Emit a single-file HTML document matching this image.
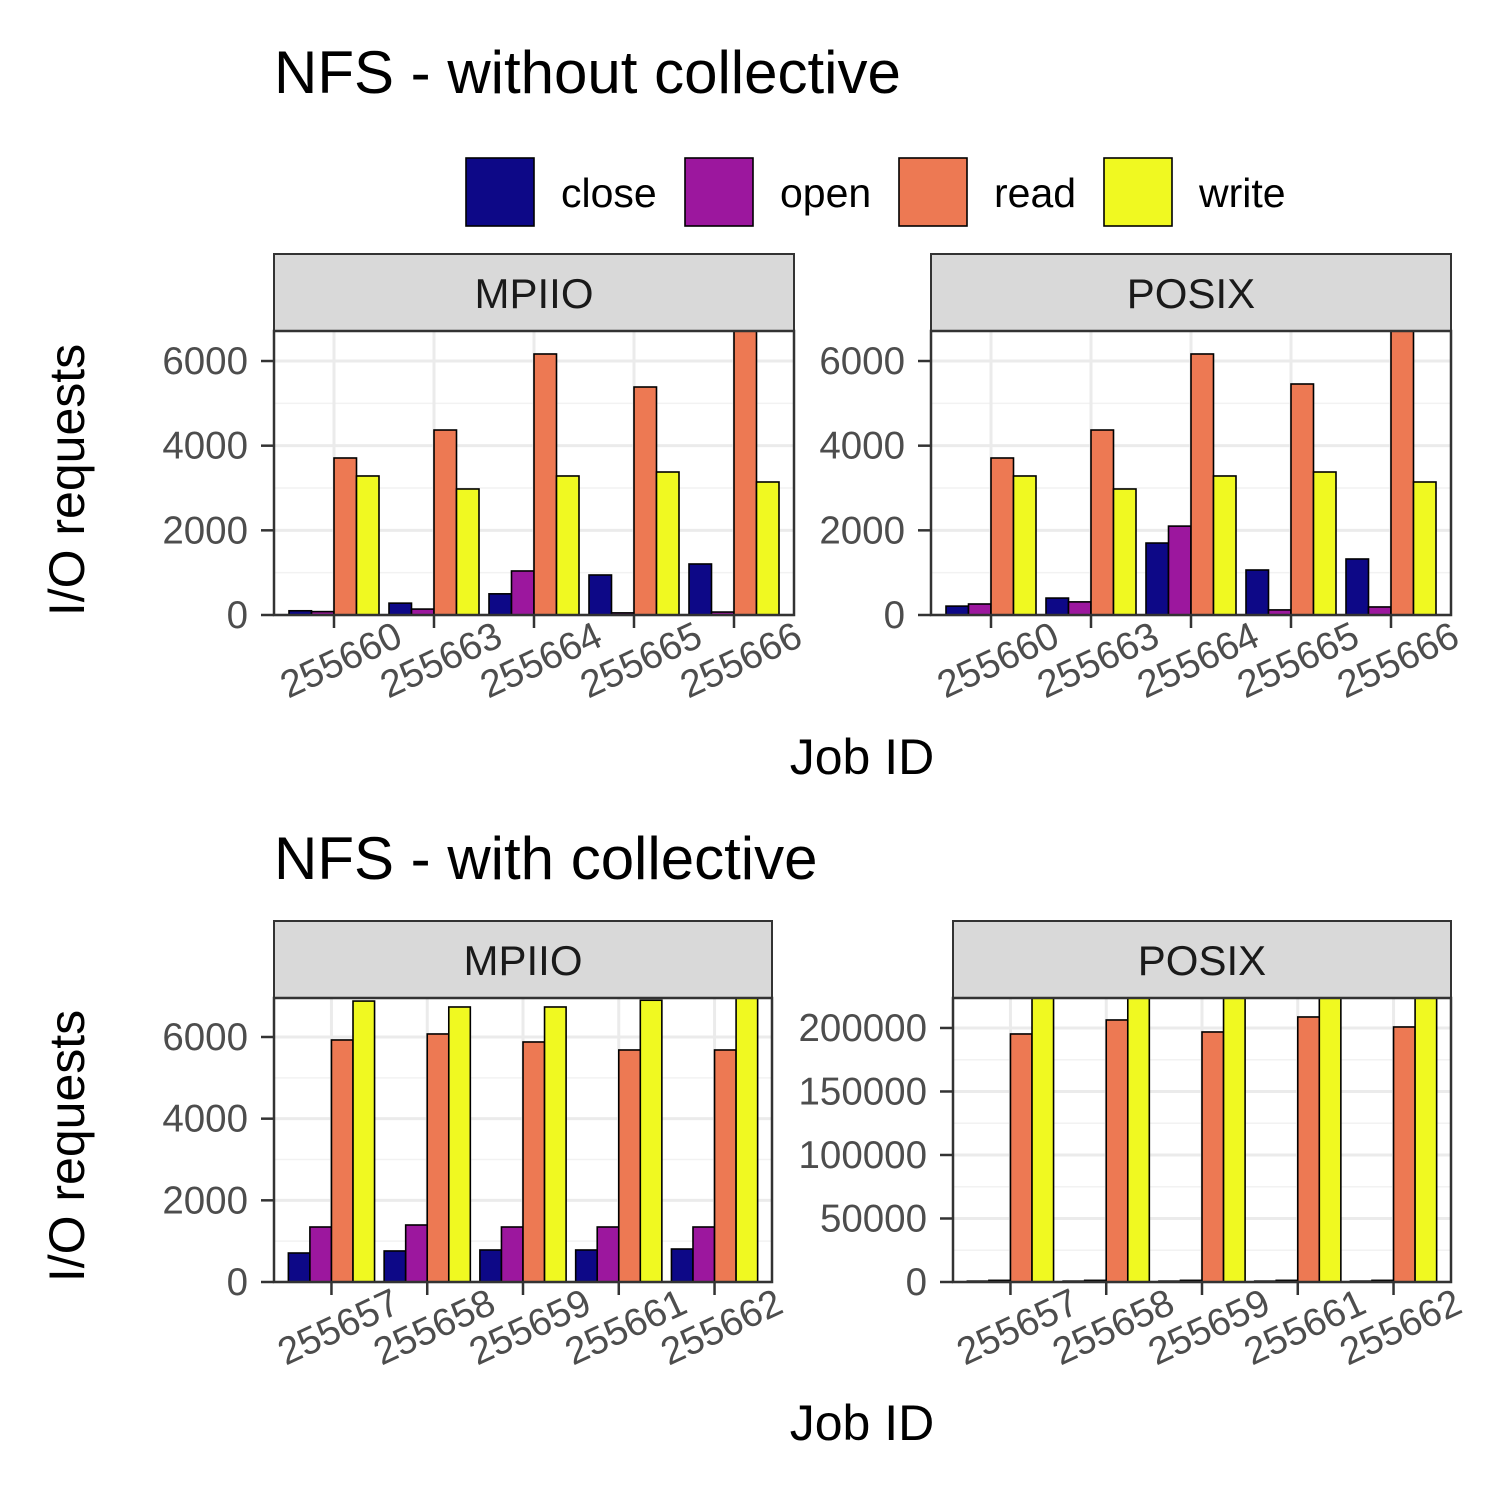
<!DOCTYPE html>
<html><head><meta charset="utf-8"><style>
html,body{margin:0;padding:0;background:#fff}
svg{display:block;font-family:"Liberation Sans",Arial,sans-serif}
</style></head><body>
<svg id="c" width="1500" height="1500" viewBox="0 0 1500 1500"></svg>
<script>
const series = ["close","open","read","write"];
const colors = ["#0d0887","#9c179e","#ed7953","#f0f921"];
const jobsTop = ["255660","255663","255664","255665","255666"];
const jobsBottom = ["255657","255658","255659","255661","255662"];
const topMpiioClose = [100,280,500,945,1205];
const topMpiioOpen = [80,140,1040,50,70];
const topMpiioRead = [3709,4370,6166,5386,6800];
const topMpiioWrite = [3284,2977,3284,3378,3142];
const topPosixClose = [210,400,1700,1063,1323];
const topPosixOpen = [260,310,2100,120,190];
const topPosixRead = [3709,4370,6166,5457,6800];
const topPosixWrite = [3284,2977,3284,3378,3142];
const botMpiioClose = [710,760,784,784,808];
const botMpiioOpen = [1347,1396,1347,1347,1347];
const botMpiioRead = [5927,6074,5878,5682,5682];
const botMpiioWrite = [6880,6735,6735,6900,7000];
const botPosixClose = [700,700,700,700,700];
const botPosixOpen = [1300,1300,1300,1300,1300];
const botPosixRead = [195276,206300,196850,208660,200790];
const botPosixWrite = [230000,230000,230000,230000,230000];
const ticksSmall = [0,2000,4000,6000];
const ticksLarge = [0,50000,100000,150000,200000];

const NS="http://www.w3.org/2000/svg";
const svg=document.getElementById('c');
function mk(tag,attrs,parent){const e=document.createElementNS(NS,tag);for(const k in attrs)e.setAttribute(k,attrs[k]);(parent||svg).appendChild(e);return e;}
function txt(s,attrs,parent){const e=mk('text',attrs,parent);e.textContent=s;return e;}

function panel(name,x0,x1,y0,y1,ymax,ticks,jobs,vals){
  const g=mk('g',{});
  
  
  const sy=v=>y1-(v/ymax)*(y1-y0);
  const n=jobs.length, step=(x1-x0)/(n+0.2);
  const sx=i=>x0+step*(i+0.6);
  const st=mk('rect',{x:x0,y:y0-77,width:x1-x0,height:77,fill:'#d9d9d9',stroke:'#333','stroke-width':2},g);
  
  
  const stt=txt(name.indexOf('posix')>=0?'POSIX':'MPIIO',{x:(x0+x1)/2,y:y0-23,'font-size':42,'text-anchor':'middle',fill:'#1a1a1a'},g);
  
  
  for(let i=0;i<ticks.length;i++){
    const y=sy(ticks[i]);
    if(i>0){const ym=sy((ticks[i]+ticks[i-1])/2);mk('line',{x1:x0,x2:x1,y1:ym,y2:ym,stroke:'#f2f2f2','stroke-width':1.5},g);}
    mk('line',{x1:x0,x2:x1,y1:y,y2:y,stroke:'#ebebeb','stroke-width':3},g);
  }
  for(let i=0;i<n;i++) mk('line',{x1:sx(i),x2:sx(i),y1:y0,y2:y1,stroke:'#ebebeb','stroke-width':3},g);
  const cp='clip-'+name;
  const cl=mk('clipPath',{id:cp},g);mk('rect',{x:x0,y:y0,width:x1-x0,height:y1-y0},cl);
  const bg=mk('g',{'clip-path':'url(#'+cp+')'},g);
  const bw=step*0.9/4;
  for(let i=0;i<n;i++)for(let s=0;s<4;s++){
    const v=vals[s][i];
    const bx=sx(i)-step*0.45+s*bw;
    const r=mk('rect',{x:bx,y:sy(v),width:bw,height:y1-sy(v),fill:colors[s],stroke:'#000','stroke-width':1.6},bg);
    
    
  }
  mk('rect',{x:x0,y:y0,width:x1-x0,height:y1-y0,fill:'none',stroke:'#333','stroke-width':2.5},g);
  ticks.forEach(t=>{const y=sy(t);
    mk('line',{x1:x0-13,x2:x0,y1:y,y2:y,stroke:'#333','stroke-width':2.5},g);
    const l=txt(String(t),{x:x0-26,y:y+13,'font-size':38.5,'text-anchor':'end',fill:'#4d4d4d'},g);
    
    
  });
  jobs.forEach((j,i)=>{const x=sx(i);
    mk('line',{x1:x,x2:x,y1:y1,y2:y1+13,stroke:'#333','stroke-width':2.5},g);
    const cx=x+7, cy=y1+58;
    const l=txt(j,{x:cx,y:cy,'font-size':38.5,'text-anchor':'middle',fill:'#4d4d4d',transform:`rotate(-25 ${cx} ${cy-13})`},g);
    
    
  });
}
function label(s,a,name){const e=txt(s,a);}
label('NFS - without collective',{x:274,y:93,'font-size':60,fill:'#000'},'title-top');
label('NFS - with collective',{x:274,y:879,'font-size':60,fill:'#000'},'title-bottom');
const lx=[466,685,899,1104], ll=[561,780,994,1199];
series.forEach((s,i)=>{
  const r=mk('rect',{x:lx[i],y:158,width:68,height:68,fill:colors[i],stroke:'#000','stroke-width':1.6});
  
  
  label(s,{x:ll[i],y:207,'font-size':41,fill:'#000'},'legend-label-'+s);
});
panel('top-mpiio',274,794,331,615,6709,ticksSmall,jobsTop,[topMpiioClose,topMpiioOpen,topMpiioRead,topMpiioWrite]);
panel('top-posix',931,1451,331,615,6709,ticksSmall,jobsTop,[topPosixClose,topPosixOpen,topPosixRead,topPosixWrite]);
panel('bottom-mpiio',274,772,998,1282,6955,ticksSmall,jobsBottom,[botMpiioClose,botMpiioOpen,botMpiioRead,botMpiioWrite]);
panel('bottom-posix',953,1451,998,1282,223600,ticksLarge,jobsBottom,[botPosixClose,botPosixOpen,botPosixRead,botPosixWrite]);
label('Job ID',{x:862,y:774,'font-size':50,'text-anchor':'middle',fill:'#000'},'x-axis-title-top');
label('Job ID',{x:862,y:1440,'font-size':50,'text-anchor':'middle',fill:'#000'},'x-axis-title-bottom');
label('I/O requests',{x:84,y:480,'font-size':50,'text-anchor':'middle',fill:'#000',transform:'rotate(-90 84 480)'},'y-axis-title-top');
label('I/O requests',{x:84,y:1146,'font-size':50,'text-anchor':'middle',fill:'#000',transform:'rotate(-90 84 1146)'},'y-axis-title-bottom');
</script>
</body></html>
